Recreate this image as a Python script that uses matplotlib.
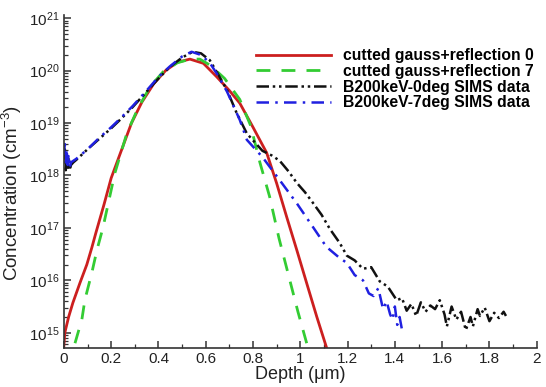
import matplotlib
matplotlib.use("Agg")
import matplotlib.pyplot as plt
import numpy as np
from matplotlib.ticker import LogLocator, NullFormatter, MultipleLocator

plt.rcParams['font.family'] = ['Liberation Sans', 'DejaVu Sans']
plt.rcParams['mathtext.fontset'] = 'custom'
plt.rcParams['mathtext.rm'] = 'Liberation Sans'
plt.rcParams['mathtext.it'] = 'Liberation Sans:italic'
plt.rcParams['mathtext.bf'] = 'Liberation Sans:bold'

# cutted gauss+reflection 0 (depth um, log10 concentration)
red_x = [0.0, 0.004, 0.02, 0.038, 0.068, 0.097, 0.118, 0.135, 0.17, 0.2, 0.245, 0.286, 0.33,
         0.38, 0.43, 0.48, 0.533, 0.59, 0.647, 0.70, 0.744, 0.80, 0.858, 0.90, 0.943, 0.985,
         1.03, 1.07, 1.11]
red_logy = [14.75, 15.0, 15.3, 15.57, 15.95, 16.3, 16.62, 16.9, 17.45, 17.95, 18.5, 19.0, 19.4,
            19.75, 20.0, 20.16, 20.22, 20.14, 19.88, 19.62, 19.38, 18.92, 18.43, 17.85, 17.2,
            16.58, 15.9, 15.3, 14.73]

# cutted gauss+reflection 7
green_x = [0.047, 0.076, 0.089, 0.118, 0.14, 0.165, 0.216, 0.266, 0.31, 0.364, 0.42, 0.48,
           0.535, 0.575, 0.62, 0.68, 0.744, 0.79, 0.829, 0.87, 0.91, 0.95, 0.99, 1.027]
green_logy = [14.8, 15.25, 15.63, 16.14, 16.58, 17.0, 18.05, 18.8, 19.25, 19.69, 19.98, 20.15,
              20.22, 20.22, 20.1, 19.85, 19.45, 18.95, 18.25, 17.6, 16.8, 16.1, 15.4, 14.8]

# B200keV-0deg SIMS data
black_x = [0.0, 0.004, 0.008, 0.012, 0.016, 0.02, 0.025, 0.03, 0.04, 0.053, 0.1, 0.15, 0.2,
           0.237, 0.29, 0.35, 0.4, 0.448, 0.5, 0.545, 0.58, 0.617, 0.65, 0.69, 0.73, 0.774,
           0.81, 0.84, 0.88, 0.913, 0.95, 0.985, 1.02, 1.053, 1.09, 1.125, 1.167, 1.197,
           1.23, 1.265, 1.30, 1.336, 1.37, 1.408, 1.43, 1.45, 1.47, 1.49, 1.51, 1.53, 1.55,
           1.57, 1.59, 1.61, 1.62, 1.64, 1.66, 1.68, 1.70, 1.72, 1.73, 1.75, 1.76, 1.78,
           1.80, 1.82, 1.84, 1.86, 1.87]
black_logy = [18.3, 18.5, 18.1, 18.4, 18.15, 18.35, 18.1, 18.2, 18.25, 18.3, 18.5, 18.7, 18.9,
              19.06, 19.3, 19.6, 19.85, 20.07, 20.25, 20.36, 20.33, 20.2, 19.95, 19.63, 19.2,
              18.8, 18.62, 18.47, 18.38, 18.28, 18.08, 17.86, 17.68, 17.48, 17.25, 16.98,
              16.71, 16.47, 16.38, 16.22, 16.25, 15.98, 15.88, 15.62, 15.66, 15.42, 15.55,
              15.32, 15.58, 15.4, 15.52, 15.45, 15.62, 15.35, 15.12, 15.5, 15.25, 15.4, 15.05,
              15.3, 15.12, 15.45, 15.32, 15.48, 15.22, 15.38, 15.28, 15.4, 15.32]

# B200keV-7deg SIMS data
blue_x = [0.0, 0.004, 0.008, 0.012, 0.016, 0.02, 0.025, 0.03, 0.04, 0.053, 0.1, 0.15, 0.2,
          0.237, 0.29, 0.35, 0.4, 0.448, 0.5, 0.54, 0.58, 0.617, 0.65, 0.69, 0.744, 0.774,
          0.84, 0.913, 0.985, 1.053, 1.11, 1.16, 1.197, 1.23, 1.265, 1.29, 1.31, 1.33,
          1.35, 1.365, 1.38, 1.39, 1.40, 1.41, 1.42, 1.43]
blue_logy = [18.4, 18.6, 18.25, 18.5, 18.2, 18.4, 18.15, 18.25, 18.28, 18.32, 18.5, 18.72,
             18.92, 19.08, 19.32, 19.62, 19.88, 20.08, 20.27, 20.36, 20.3, 20.15, 19.92, 19.6,
             19.06, 18.68, 18.35, 17.91, 17.47, 17.02, 16.64, 16.45, 16.33, 16.1, 16.0, 15.75,
             15.7, 15.85, 15.45, 15.6, 15.35, 15.25, 15.5, 15.15, 15.3, 15.06]

xticks = [0, 0.2, 0.4, 0.6, 0.8, 1, 1.2, 1.4, 1.6, 1.8, 2]
xticklabels = ['0', '0.2', '0.4', '0.6', '0.8', '1', '1.2', '1.4', '1.6', '1.8', '2']
ydecades = [15, 16, 17, 18, 19, 20, 21]

labels = ['cutted gauss+reflection 0', 'cutted gauss+reflection 7',
          'B200keV-0deg SIMS data', 'B200keV-7deg SIMS data']

fig = plt.figure(figsize=(5.46, 3.87), dpi=100)
ax = fig.add_axes([0.117, 0.101, 0.866, 0.860])

ax.plot(red_x, 10 ** np.array(red_logy), color='#cc1f1f', lw=2.0, label=labels[0])
ax.plot(green_x, 10 ** np.array(green_logy), color='#33cc33', lw=2.0,
        linestyle=(0, (5, 4)), label=labels[1])
ax.plot(black_x, 10 ** np.array(black_logy), color='#111111', lw=1.8,
        linestyle=(0, (5, 1.5, 1, 1.5, 1, 1.5)), label=labels[2])
ax.plot(blue_x, 10 ** np.array(blue_logy), color='#2020e0', lw=1.8,
        linestyle=(0, (5, 2.5, 1, 2.5)), label=labels[3])

ax.set_yscale('log')
ax.set_xlim(0, 2)
ax.set_ylim(10 ** 14.71, 10 ** 21.06)
ax.set_xticks(xticks)
ax.set_xticklabels(xticklabels)
ax.xaxis.set_minor_locator(MultipleLocator(0.1))
ax.set_yticks([10.0 ** d for d in ydecades])
ax.set_yticklabels([r'$\mathregular{10^{%d}}$' % d for d in ydecades])
ax.yaxis.set_minor_locator(LogLocator(base=10, subs=np.arange(2, 10), numticks=20))
ax.yaxis.set_minor_formatter(NullFormatter())

for s in ['top', 'right']:
    ax.spines[s].set_visible(False)
for s in ['left', 'bottom']:
    ax.spines[s].set_linewidth(1.2)
    ax.spines[s].set_color('#333333')

ax.tick_params(which='major', direction='in', length=5, width=1.1, colors='#333333',
               labelsize=11, labelcolor='#222222', pad=3)
ax.tick_params(which='minor', direction='in', length=3, width=0.9, colors='#333333')

ax.set_xlabel('Depth (\u03bcm)', fontsize=13, color='#222222', labelpad=0)
ax.set_ylabel(r'Concentration (cm$^{\mathregular{-3}}$)', fontsize=13.5, color='#222222')
ax.yaxis.set_label_coords(-0.085, 0.465)

leg = ax.legend(loc='upper left', bbox_to_anchor=(0.392, 0.92), frameon=False,
                prop={'weight': 'bold', 'size': 11.3}, handlelength=4.8,
                handletextpad=0.75, labelspacing=0.05, borderaxespad=0.0)

fig.savefig('out.png', dpi=100)
